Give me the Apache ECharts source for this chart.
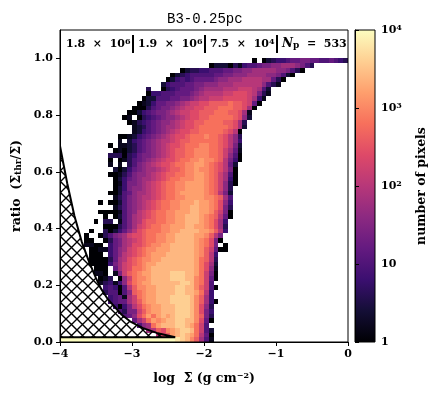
<!DOCTYPE html>
<html>
<head>
<meta charset="utf-8">
<style>html,body{margin:0;padding:0;background:#fff}#main{width:436px;height:396px}</style>
<script src="https://cdn.jsdelivr.net/npm/echarts@6/dist/echarts.min.js"></script>
</head>
<body>
<div id="main"></div>
<script>
// bins: 60 columns in log sigma (-4..0), 60 rows in ratio (0..1)
const BINS_PER_DEX = 15
const BINS_PER_RATIO = 60
// one letter per cell: a = 1 pixel, each next letter is +0.2 dex, '.' = empty
const CODES = 'abcdefghijklmnopqrstu'
// listed from the top row (ratio 1.0) down to the bottom row
const rowStart = [40,31,25,23,22,21,18,18,17,16,15,14,13,14,15,15,12,12,10,11,10,10,10,11,10,11,11,11,10,11,8,11,8,9,7,9,6,5,5,5,6,6,6,6,7,7,8,8,9,9,10,10,11,12,13,15,16,18,20,0]
const rowCells = [
  'a.acdeefgghhggffgfed',
  'acccadbeffghhiijjjihfd',
  'acddeefffgghhiijjjjjiihfda',
  'acdefffffgghhiiijjjjiihfca',
  'acefefgggghiijjjkkkkjjgda',
  'cefffgghhiiijjjkkkkkkifdb',
  'd..adefggghijjjjkkklllkjfc',
  'aeefffggghijkkkkllmmmlkhdb',
  'accfffgghhijkklllmmmmmljeb',
  'abcegghhijkllmmnnnnonnmlga',
  'aaadfghhijkllmmnnnooonnmja',
  'aacefghhijkllmmnnnooonnmjb',
  'ab.adefghiijklmmnnooooonmic',
  'abdefghiijklmmnnoooonnmjd',
  'bcdfghijjklmmnoooooonmjc',
  'bcefghijklmmnnooooonmka',
  'aabcefghijklmmnooopoonmkid',
  'b.cefghijkklmnnoooooonmkie',
  'a.bbcdfghijklmmnoooppoonmkhc',
  'abacdfghijklmnnoopppoonljgb',
  'dddadeghhijklmnnoopppoonlifa',
  'a.abdfghijklmmnooppqpponkhea',
  'b.b.dfhijklmmnooppqqponmkgc',
  'caceghijjklmnnoppqpponmkha',
  'aabdfhiijklmnnooppqqponljfa',
  'aceghijjklmnoopppqqponljea',
  'abehhijklmnooppqqqqponlida',
  'acehiijklmnooppqqqqponlid',
  'aacfgijjklmnoopqqqqqponkhc',
  'bdfhijkklmnooppqqqqpponjf',
  'a.aacfhijklmnooppqqqrqqpomie',
  'bdfhijklmnooppqqrrqqpomhd',
  'aaaabfhiklmnooppqqqrrqqpnlha',
  'a.acfhjklmnooppqqrrrqponkga',
  'a.dd.bfhjkmnnooppqqrrrqpomje',
  'aaadfhjlmnooppqqqrrqqpomjd',
  'a..dacegikmnoooppqqrrrrqqpnke',
  'a..adfhijlmmnooppqqrrrrqqpnkh',
  'aa..adghjklmnooppqqrrrrqpomha',
  'bbaa.eghjkmmnoppqqrrrrrqpomh.a',
  'aabbegijlmnoppqqqrrrrrqpnlgaa',
  'aaa.egiklmnopqqqrrrrrrqpnke',
  'aaaadgjkmnoppqqrrrrrrrqonkd',
  'aaaaehjlmnopqqrrrrrrrrqomjc',
  'aaa.gjlmoopqrrrrrrrrrqomib',
  'bba.bhlnopqqrrrrsssrrqolha',
  'abd.ailoppqrrrrsssrrpolga',
  'bdebeimopqqrrrrrrssrpolf',
  'efeafknppqqrrrrssrrpnlfa',
  'dffafinopqqrrrrssrrqoke',
  'efgbjlopqqrrrssssrpnje',
  'efggjlnpqqrrrssssrpnjea',
  'eaehkmopqqrrrsssrpmid',
  'fdhhlnpqqrrrsssrpmhe',
  'fgimoqoqrqrsssrpnhd',
  'gjloqpqrrssrrpmga',
  'fijoqrrrssrqolf',
  'jknmpqrssrolfc',
  'kmnqrsrqokga',
  'uuuuuuuuuuuuuuuuuuuuuuuutsrpnjfb'
]
// boundary of the excluded region
const curveLogSigma = [-4,-3.95,-3.9,-3.8,-3.7,-3.6,-3.5,-3.435,-3.333,-3.143,-3.028,-2.847,-2.657,-2.4]
const curveRatio = [0.691,0.625,0.56,0.445,0.355,0.285,0.225,0.19,0.15,0.096,0.073,0.049,0.032,0.0167]
const xTicks = [-4,-3,-2,-1,0]
const yTicks = [0,0.2,0.4,0.6,0.8,1.0]
const cbTicks = [1,10,100,1000,10000]
const statLabels = ['1.8  ×  10{s|6}','1.9  ×  10{s|6}','7.5  ×  10{s|4}','{i|N}{u|p}  =  533']
const magma = ['#000004','#140e36','#3b0f70','#641a80','#8c2981','#b73779','#de4968','#f7705c','#fe9f6d','#fecf92','#fcfdbf']

const SERIF = '"DejaVu Serif"'
const labelFont = {fontFamily:SERIF,fontWeight:'bold',fontSize:11,color:'#000'}
const nameFont = {fontFamily:SERIF,fontWeight:'bold',fontSize:12.5,color:'#000'}
const rich = {
  s:{fontFamily:SERIF,fontWeight:'bold',fontSize:8,color:'#000',verticalAlign:'bottom',padding:[0,0,5,0]},
  u:{fontFamily:SERIF,fontWeight:'bold',fontSize:9,color:'#000',verticalAlign:'top',padding:[4,0,0,0]},
  i:{fontFamily:SERIF,fontWeight:'bold',fontStyle:'italic',fontSize:12,color:'#000'}
}

const cells = []
rowCells.forEach((row,r)=>{
  const j = BINS_PER_RATIO-1-r
  for(let k=0;k<row.length;k++){
    const code = CODES.indexOf(row[k])
    if(code<0) continue
    const col = rowStart[r]+k
    cells.push([-4+col/BINS_PER_DEX,j/BINS_PER_RATIO,code*0.2])
  }
})

function hatchPattern(){
  const size = 11
  const cvs = document.createElement('canvas')
  cvs.width = size
  cvs.height = size
  const ctx = cvs.getContext('2d')
  ctx.strokeStyle = '#000'
  ctx.lineWidth = 1.4
  ctx.beginPath()
  ctx.moveTo(-1,-1);ctx.lineTo(size+1,size+1)
  ctx.moveTo(-1,size+1);ctx.lineTo(size+1,-1)
  ctx.stroke()
  return cvs
}
const hatch = hatchPattern()

function drawCell(params,api){
  const x = api.value(0),y = api.value(1)
  const a = api.coord([x,y+1/BINS_PER_RATIO])
  const b = api.coord([x+1/BINS_PER_DEX,y])
  const left = Math.round(a[0]),top = Math.round(a[1])
  return {type:'rect',shape:{x:left,y:top,width:Math.round(b[0])-left,height:Math.round(b[1])-top},
    style:{fill:api.visual('color')}}
}
function drawRegion(params,api){
  const pts = curveLogSigma.map((v,i)=>api.coord([v,curveRatio[i]]))
  pts.push(api.coord([-4,curveRatio[curveRatio.length-1]]))
  return {type:'polygon',shape:{points:pts},
    style:{fill:{image:hatch,repeat:'repeat'},stroke:'#000',lineWidth:2,lineJoin:'bevel'}}
}
function drawColorbar(params,api){
  const a = api.coord([0,10000]),b = api.coord([1,1])
  return {type:'rect',shape:{x:a[0],y:a[1],width:b[0]-a[0],height:b[1]-a[1]},
    style:{fill:{type:'linear',x:0,y:1,x2:0,y2:0,
      colorStops:magma.map((c,i)=>({offset:i/(magma.length-1),color:c}))}}}
}

function statText(i,x){
  return {type:'text',x:x,y:44,z:10,style:{text:statLabels[i],font:'bold 11px '+SERIF,fill:'#000',verticalAlign:'middle',rich}}
}
function statBar(x){
  return {type:'rect',z:10,shape:{x:x,y:35,width:2,height:18},style:{fill:'#000'}}
}

const chart = echarts.init(document.getElementById('main'),null,{renderer:'canvas'})
chart.setOption({
  animation:false,
  backgroundColor:'#fff',
  title:{text:'B3-0.25pc',left:162,top:7,
    textStyle:{fontFamily:'"Liberation Mono"',fontWeight:'normal',fontSize:14,color:'#000'}},
  grid:[
    {left:60,top:30,width:288,height:312,show:true,borderColor:'#000',borderWidth:1,z:5},
    {left:355,top:30,width:20,height:312,show:true,borderColor:'#000',borderWidth:1,z:5}
  ],
  xAxis:[
    {type:'value',gridIndex:0,min:-4,max:0,interval:1,splitLine:{show:false},z:6,
      axisLine:{show:true,onZero:false,lineStyle:{color:'#000',width:1}},
      axisTick:{length:4,lineStyle:{color:'#000'}},
      axisLabel:Object.assign({},labelFont,{margin:7,formatter:v=>v<0?'\u2212'+Math.abs(v):String(v)}),
      name:'log  Σ (g cm{s|−2})',nameLocation:'middle',nameGap:30,
      nameTextStyle:Object.assign({},nameFont,{rich})},
    {type:'value',gridIndex:1,min:0,max:1,show:false}
  ],
  yAxis:[
    {type:'value',gridIndex:0,min:0,max:1.1,splitLine:{show:false},z:6,
      axisLine:{show:true,onZero:false,lineStyle:{color:'#000',width:1}},
      axisTick:{length:4,lineStyle:{color:'#000'},customValues:yTicks},
      axisLabel:Object.assign({},labelFont,{margin:7,customValues:yTicks,formatter:v=>v.toFixed(1)}),
      name:'ratio  (Σ{u|thr}/Σ)',nameLocation:'middle',nameGap:37,
      nameTextStyle:Object.assign({},nameFont,{rich})},
    {type:'log',logBase:10,gridIndex:1,min:1,max:10000,position:'right',splitLine:{show:false},z:6,
      axisLine:{show:true,lineStyle:{color:'#000',width:1}},
      axisTick:{length:4,lineStyle:{color:'#000'}},minorTick:{show:false},
      axisLabel:Object.assign({},labelFont,{margin:6,rich,formatter:v=>{
        const e = Math.round(Math.log10(v))
        return e<2?String(cbTicks[e]):'10{s|'+e+'}'
      }}),
      name:'number of pixels',nameLocation:'middle',nameGap:40,nameRotate:90,
      nameTextStyle:Object.assign({},nameFont)}
  ],
  visualMap:{show:false,seriesIndex:0,dimension:2,min:0,max:4,inRange:{color:magma}},
  series:[
    {type:'custom',coordinateSystem:'cartesian2d',xAxisIndex:0,yAxisIndex:0,renderItem:drawCell,data:cells,clip:true},
    {type:'custom',coordinateSystem:'cartesian2d',xAxisIndex:0,yAxisIndex:0,renderItem:drawRegion,data:[[-4,0]],clip:true,z:3},
    {type:'custom',coordinateSystem:'cartesian2d',xAxisIndex:1,yAxisIndex:1,renderItem:drawColorbar,data:[[0,1]]}
  ],
  graphic:[
    statText(0,66),statText(1,138),statText(2,210),statText(3,282),
    statBar(132),statBar(204),statBar(276)
  ]
})
</script>
</body>
</html>
